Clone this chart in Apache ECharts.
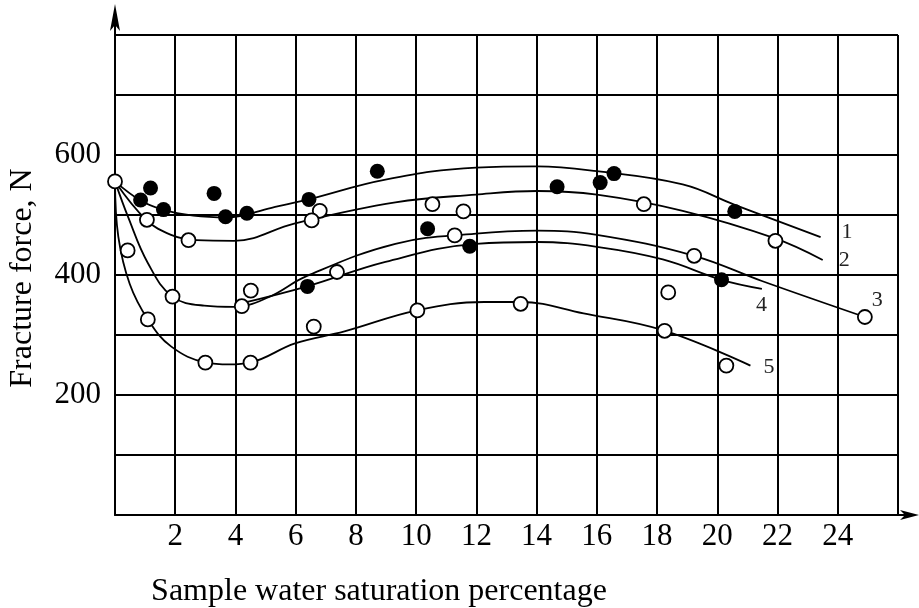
<!DOCTYPE html>
<html><head><meta charset="utf-8">
<script src="https://cdn.jsdelivr.net/npm/echarts@6/dist/echarts.min.js"></script>
<style>html,body{margin:0;padding:0;background:#fff}#c{width:919px;height:608px}</style>
</head><body><div id="c"></div>
<script>
// ---- data ----
const xTickLabels = [2, 4, 6, 8, 10, 12, 14, 16, 18, 20, 22, 24];
const yTickLabels = [200, 400, 600];
const xAxisTitle = 'Sample water saturation percentage';
const yAxisTitle = 'Fracture force, N';
const curveNames = ['1', '2', '3', '4', '5'];

const filledPoints = [
  [0.85, 525], [1.18, 545], [1.61, 509], [3.29, 536], [3.67, 497], [4.38, 503],
  [6.44, 526], [6.39, 381], [8.71, 573], [10.38, 477], [11.78, 448], [14.68, 547],
  [16.11, 554], [16.57, 569], [20.58, 506], [20.14, 392]
];
const openPoints = [
  [0, 556], [1.06, 492], [2.44, 458], [0.42, 441], [1.91, 364], [1.09, 326],
  [3.0, 254], [4.5, 254], [4.21, 348], [4.51, 374], [6.8, 507], [6.53, 491],
  [7.37, 405], [6.6, 314], [10.54, 518], [11.57, 506], [11.28, 466], [10.04, 341],
  [13.47, 352], [17.56, 518], [18.37, 371], [18.25, 307], [21.93, 457], [19.23, 432],
  [24.9, 330], [20.3, 249]
];
const curve1 = [[0,556],[0.82,525],[1.58,509],[2.6,499],[3.72,496],[5.2,512],[6.42,526],[8.98,559],[11.99,579],[14.02,581],[16.0,573],[18.85,551],[20.58,517],[23.43,463]];
const curve2 = [[0,556],[1.04,492],[1.86,467],[2.7,458],[3.95,457],[5.98,486],[9.31,521],[11.99,534],[14.02,540],[16.0,534],[18.85,507],[21.92,461],[23.50,425]];
const curve3 = [[0,556],[0.44,496],[1.09,420],[1.91,364],[2.96,349],[3.95,347],[5.10,363],[6.36,398],[9.31,452],[11.99,469],[14.02,474],[16.0,467],[19.23,432],[21.48,390],[24.9,330]];
const curve4 = [[4.22,353],[6.38,381],[8.98,422],[11.99,452],[14.02,455],[16.0,447],[18.19,426],[20.14,392],[21.48,377]];
const curve5 = [[0,556],[0.11,464],[0.49,385],[1.09,326],[1.86,281],[3.02,254],[3.79,251],[4.49,254],[5.98,286],[7.62,306],[10.03,341],[12.26,355],[13.47,355],[15.56,336],[18.19,308],[21.10,249]];
const curves = [curve1, curve2, curve3, curve4, curve5];

// ---- presentation ----
const FONT = '"Liberation Serif", "Times New Roman", serif';
const labelOffsets = [[13, -5], [8, 0], [-1, -17], [-14, 16], [5, 2]];

const chart = echarts.init(document.getElementById('c'), null, {renderer: 'canvas'});

const lineSeries = curves.map((d, i) => ({
  type: 'line',
  name: curveNames[i],
  data: d,
  smooth: 0.4,
  showSymbol: false,
  silent: true,
  z: 3,
  lineStyle: {color: '#000', width: 1.8},
  endLabel: {
    show: true,
    formatter: curveNames[i],
    color: '#222',
    fontFamily: FONT,
    fontSize: 22,
    offset: labelOffsets[i]
  }
}));

chart.setOption({
  animation: false,
  backgroundColor: '#fff',
  grid: {left: 115, right: 21, top: 35, bottom: 93, outerBoundsMode: 'none'},
  xAxis: {
    type: 'value', min: 0, max: 26, interval: 2,
    axisLine: {show: true, onZero: true, lineStyle: {color: '#000', width: 2}},
    axisTick: {show: false},
    splitLine: {show: true, lineStyle: {color: '#000', width: 2}},
    axisLabel: {
      color: '#000', fontFamily: FONT, fontSize: 31, margin: 6,
      formatter: v => xTickLabels.indexOf(v) >= 0 ? String(v) : ''
    }
  },
  yAxis: {
    type: 'value', min: 0, max: 800, interval: 100,
    axisLine: {show: true, onZero: true, lineStyle: {color: '#000', width: 2}},
    axisTick: {show: false},
    splitLine: {show: true, lineStyle: {color: '#000', width: 2}},
    axisLabel: {
      color: '#000', fontFamily: FONT, fontSize: 31, margin: 14,
      formatter: v => yTickLabels.indexOf(v) >= 0 ? String(v) : ''
    }
  },
  series: lineSeries.concat([
    {
      type: 'scatter', name: 'filled', data: filledPoints, z: 5,
      symbol: 'circle', symbolSize: 15,
      itemStyle: {color: '#000', borderWidth: 0, opacity: 1}
    },
    {
      type: 'scatter', name: 'open', data: openPoints, z: 6,
      symbol: 'circle', symbolSize: 14,
      itemStyle: {color: '#fff', borderColor: '#000', borderWidth: 1.8, opacity: 1}
    }
  ])
});

// axis arrows and titles
const pTop = chart.convertToPixel({gridIndex: 0}, [0, 800]);
const pRight = chart.convertToPixel({gridIndex: 0}, [26, 0]);
chart.setOption({
  graphic: [
    {type: 'line', shape: {x1: pTop[0], y1: pTop[1], x2: pTop[0], y2: pTop[1] - 24}, style: {stroke: '#000', lineWidth: 2}},
    {type: 'polygon', shape: {points: [[pTop[0], pTop[1] - 31], [pTop[0] - 5, pTop[1] - 4], [pTop[0], pTop[1] - 10], [pTop[0] + 5, pTop[1] - 4]]}, style: {fill: '#000'}},
    {type: 'line', shape: {x1: pRight[0], y1: pRight[1], x2: pRight[0] + 16, y2: pRight[1]}, style: {stroke: '#000', lineWidth: 2}},
    {type: 'polygon', shape: {points: [[pRight[0] + 21, pRight[1]], [pRight[0] + 2, pRight[1] - 5], [pRight[0] + 7, pRight[1]], [pRight[0] + 2, pRight[1] + 5]]}, style: {fill: '#000'}},
    {type: 'text', x: 23, y: 278, rotation: Math.PI / 2,
     style: {text: yAxisTitle, font: '32px ' + FONT, fill: '#000', textAlign: 'center', textVerticalAlign: 'middle'}},
    {type: 'text', x: 379, y: 592,
     style: {text: xAxisTitle, font: '32px ' + FONT, fill: '#000', textAlign: 'center', textVerticalAlign: 'middle'}}
  ]
});
</script>
</body></html>
